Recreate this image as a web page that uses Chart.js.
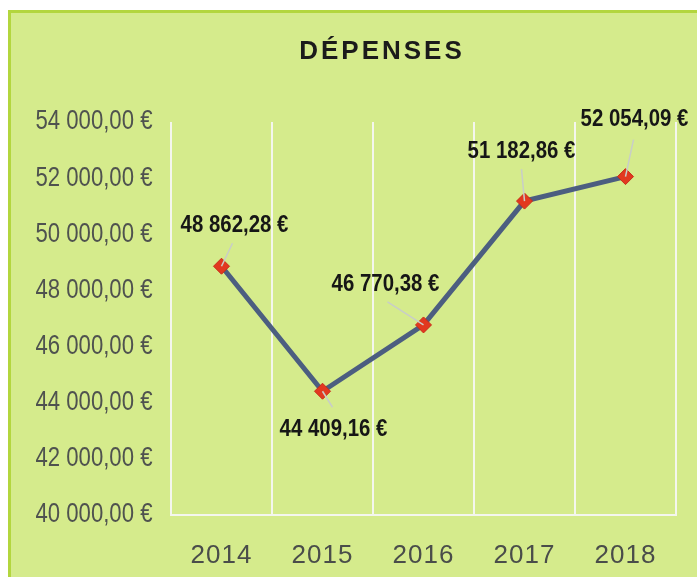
<!DOCTYPE html>
<html>
<head>
<meta charset="utf-8">
<script src="https://cdn.jsdelivr.net/npm/chart.js@4/dist/chart.umd.min.js"></script>
<style>
  html, body { margin: 0; padding: 0; background: #ffffff; }
  #panel {
    position: absolute; left: 8px; top: 10px; width: 700px; height: 580px;
    background: #d5eb8c; border-left: 3px solid #b3d63e; border-top: 3px solid #b3d63e;
    box-sizing: border-box;
  }
  #wrap { position: absolute; left: 0; top: 0; width: 697px; height: 577px; }
</style>
</head>
<body>
<div id="panel"></div>
<div id="wrap"><canvas id="depChart" width="697" height="577"></canvas></div>
<script>
// Données
const annees = ['2014', '2015', '2016', '2017', '2018'];
const depenses = [48862.28, 44409.16, 46770.38, 51182.86, 52054.09];
const yMin = 40000;
const yMax = 54000;
const yStep = 2000;

// Position des étiquettes (décalage depuis le point) et des traits de rappel
const labelOffsets = [[13, -41], [11, 38], [-38, -41], [-3, -50], [9, -57]];
const leaderEnds = [[11, -23], [10, 16], [-36, -23], [-3, -32], [8, -37]];

const SANS = '"Liberation Sans", Arial, sans-serif';

function euro(v) {
  const parts = v.toFixed(2).split('.');
  const ent = parts[0].replace(/\B(?=(\d{3})+(?!\d))/g, ' ');
  return ent + ',' + parts[1] + ' €';
}

// texte resserré horizontalement autour de x
function squeeze(ctx, x, sx, fn) {
  ctx.save();
  ctx.translate(x, 0);
  ctx.scale(sx, 1);
  ctx.translate(-x, 0);
  fn();
  ctx.restore();
}

// Titre + étiquettes des points
const etiquettes = {
  id: 'etiquettes',
  afterDraw(chart) {
    const ctx = chart.ctx;
    ctx.save();
    ctx.fillStyle = '#1b1b1b';
    ctx.font = 'bold 26px ' + SANS;
    ctx.letterSpacing = '3px';
    ctx.textAlign = 'center';
    ctx.textBaseline = 'middle';
    ctx.fillText('DÉPENSES', 382, 52);
    ctx.restore();
  },
  afterDatasetsDraw(chart) {
    const ctx = chart.ctx;
    const pts = chart.getDatasetMeta(0).data;
    ctx.save();
    pts.forEach((p, i) => {
      const off = labelOffsets[i];
      const le = leaderEnds[i];
      ctx.strokeStyle = '#c8cdc8';
      ctx.lineWidth = 1.5;
      ctx.beginPath();
      ctx.moveTo(p.x, p.y);
      ctx.lineTo(p.x + le[0], p.y + le[1]);
      ctx.stroke();
      const cx = p.x + off[0];
      squeeze(ctx, cx, 0.85, () => {
        ctx.fillStyle = '#161616';
        ctx.font = 'bold 24px ' + SANS;
        ctx.textAlign = 'center';
        ctx.textBaseline = 'middle';
        ctx.fillText(euro(depenses[i]), cx, p.y + off[1]);
      });
    });
    ctx.restore();
  }
};

const chart = new Chart(document.getElementById('depChart'), {
  type: 'line',
  data: {
    labels: annees,
    datasets: [{
      label: 'Dépenses',
      data: depenses,
      borderColor: '#4c5e80',
      borderWidth: 5,
      pointStyle: 'rectRot',
      pointRadius: 8,
      pointBackgroundColor: '#e2381f',
      pointBorderColor: '#c82b18',
      pointBorderWidth: 1,
      tension: 0
    }]
  },
  options: {
    responsive: false,
    animation: false,
    layout: { padding: { top: 122, right: 21, bottom: 0, left: 0 } },
    plugins: {
      legend: { display: false },
      tooltip: { enabled: false },
      title: { display: false }
    },
    scales: {
      x: {
        offset: true,
        grid: { display: true, offset: true, color: '#f4f6ee', lineWidth: 2, drawTicks: false },
        border: { display: true, color: '#f4f6ee', width: 2 },
        ticks: {
          color: '#4a4d4a',
          padding: 25,
          font: { family: SANS, size: 26 }
        },
        afterFit(scale) {
          scale.height = 62;
          if (!scale._spaced) {
            const orig = scale.drawLabels;
            scale.drawLabels = function (area) {
              this.ctx.save();
              this.ctx.letterSpacing = '1px';
              orig.call(this, area);
              this.ctx.restore();
            };
            scale._spaced = true;
          }
        }
      },
      y: {
        min: yMin,
        max: yMax,
        grid: { display: false },
        border: { display: false },
        ticks: {
          stepSize: yStep,
          color: '#4f524f',
          padding: 12,
          font: { family: SANS, size: 27 },
          callback: (v) => euro(v)
        },
        afterFit(scale) {
          scale.width = 171;
          if (!scale._squeezed) {
            const orig = scale.drawLabels;
            scale.drawLabels = function (area) {
              squeeze(this.ctx, 159, 0.82, () => orig.call(this, area));
            };
            scale._squeezed = true;
          }
        }
      }
    }
  },
  plugins: [etiquettes]
});
</script>
</body>
</html>
